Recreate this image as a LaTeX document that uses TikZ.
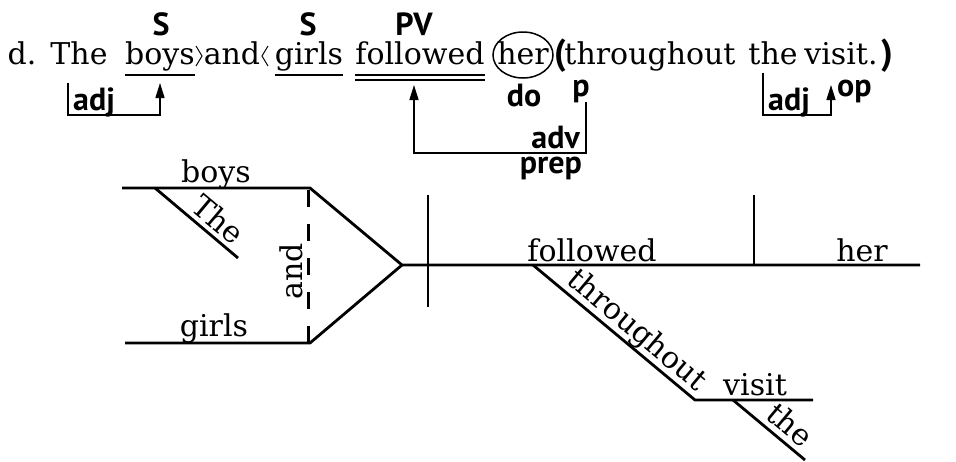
\documentclass[tikz,border=0pt]{standalone}
\usepackage{fontspec}
\setmainfont{DejaVu Serif}
\newfontfamily\labfont{PT Sans}
\usetikzlibrary{arrows.meta}
\begin{document}
\begin{tikzpicture}[x=1pt,y=1pt,
  wrd/.style={inner sep=0pt,anchor=base,font=\fontsize{30}{36}\selectfont},
  lab/.style={inner sep=0pt,font=\labfont\bfseries\fontsize{32}{36}\selectfont},
  par/.style={inner sep=0pt,font=\labfont\bfseries\fontsize{36}{40}\selectfont},
  uline/.style={line width=1.5pt},
  arr/.style={line width=1.5pt,-{Triangle[length=15pt,width=9pt]}},
  dline/.style={line width=2.8pt},
  dword/.style={inner sep=0pt,font=\fontsize{30}{36}\selectfont}]
\useasboundingbox (0,0) rectangle (956,-461);
% ---------- sentence ----------
\node[wrd] (d) at (22,-64) {d.};
\node[wrd] (The) at (79,-64) {The};
\node[wrd] (boys) at (160,-64) {boys};
\node[wrd] (and) at (232,-64) {and};
\node[wrd] (girls) at (309,-64) {girls};
\node[wrd] (followed) at (420,-64) {followed};
\node[wrd] (her) at (523,-64) {her};
\node[par,anchor=base west] (lp) at (554,-64) {(};
\node[wrd] (throughout) at (650,-64) {throughout};
\node[wrd] (the) at (773,-64) {the};
\node[wrd] (visit) at (841,-64) {visit.};
\node[par,anchor=base west] (rp) at (881,-64) {)};
% angle marks
\draw[line width=1pt] (196,-46) -- (202,-56) -- (196,-66);
\draw[line width=1pt] (268,-46) -- (262,-56) -- (268,-66);
% underlines
\draw[uline] (boys.base west |- 0,-75) -- (boys.base east |- 0,-75);
\draw[uline] (girls.base west |- 0,-75) -- (girls.base east |- 0,-75);
\draw[uline] (followed.base west |- 0,-75) -- (followed.base east |- 0,-75);
\draw[uline] (followed.base west |- 0,-80) -- (followed.base east |- 0,-80);
% circle around her
\draw[line width=1.5pt] (her.center |- 0,-55) ellipse [x radius=30, y radius=23];
% labels
\node[lab,anchor=base] (S1) at (161,-35) {S};
\node[lab,anchor=base] (S2) at (308,-35) {S};
\node[lab,anchor=base] (PV) at (414,-35) {PV};
\node[lab,anchor=base west] (adj1) at (73,-110) {adj};
\node[lab,anchor=base] (do) at (524,-106) {do};
\node[lab,anchor=base] (p) at (581,-96) {p};
\node[lab,anchor=base east] (adv) at (580,-148) {adv};
\node[lab,anchor=base east] (prep) at (582,-173) {prep};
\node[lab,anchor=base west] (adj2) at (768,-110) {adj};
\node[lab,anchor=base west] (op) at (837,-96) {op};
% brackets
\coordinate (a1s) at (68,-83);
\coordinate (a1t) at (160,-83);
\draw[arr] (a1s) |- (160,-115) -- (a1t);
\coordinate (a2s) at (586,-102);
\coordinate (a2t) at (414,-85);
\draw[arr] (a2s) |- (414,-153) -- (a2t);
\coordinate (a3s) at (763,-73);
\coordinate (a3t) at (831,-85);
\draw[arr] (a3s) |- (831,-115) -- (a3t);
% ---------- diagram ----------
\coordinate (b0) at (122,-188);
\coordinate (b1) at (310,-188);
\coordinate (g0) at (125,-343);
\coordinate (g1) at (310,-343);
\coordinate (j) at (402,-265);
\coordinate (e) at (920,-265);
\draw[dline,line join=miter] (b0) -- (b1) -- (j) -- (e);
\draw[dline,line join=miter] (g0) -- (g1) -- (j);
\draw[line width=3pt,dash pattern=on 17pt off 17pt] (308,-190) -- (308,-343);
\coordinate (v1t) at (428,-195);
\coordinate (v1b) at (428,-307);
\draw[dline] (v1t) -- (v1b);
\coordinate (v2t) at (754,-195);
\coordinate (v2b) at (754,-265);
\draw[dline] (v2t) -- (v2b);
\coordinate (t0) at (155,-188);
\coordinate (t1) at (238,-258);
\draw[dline] (t0) -- (t1);
\coordinate (th0) at (533,-265);
\coordinate (th1) at (695,-400);
\coordinate (vi1) at (813,-400);
\draw[dline] (th0) -- (th1) -- (vi1);
\coordinate (he0) at (733,-400);
\coordinate (he1) at (805,-460);
\draw[dline] (he0) -- (he1);
\node[dword,anchor=base] (Dboys) at (216,-182) {boys};
\node[dword,anchor=base] (Dgirls) at (214,-336) {girls};
\node[dword,anchor=base] (Dfollowed) at (592,-261) {followed};
\node[dword,anchor=base] (Dher) at (862,-261) {her};
\node[dword,anchor=base] (Dvisit) at (755,-395) {visit};
\node[dword,anchor=base,rotate=90] (Dand) at (302,-271) {and};
\node[dword,anchor=base,rotate=-40] (DThe) at (211,-228) {The};
\node[dword,anchor=base,rotate=-40] (Dthroughout) at (631,-337) {throughout};
\node[dword,anchor=base,rotate=-40] (Dthe) at (783,-433) {the};
\end{tikzpicture}
\end{document}
